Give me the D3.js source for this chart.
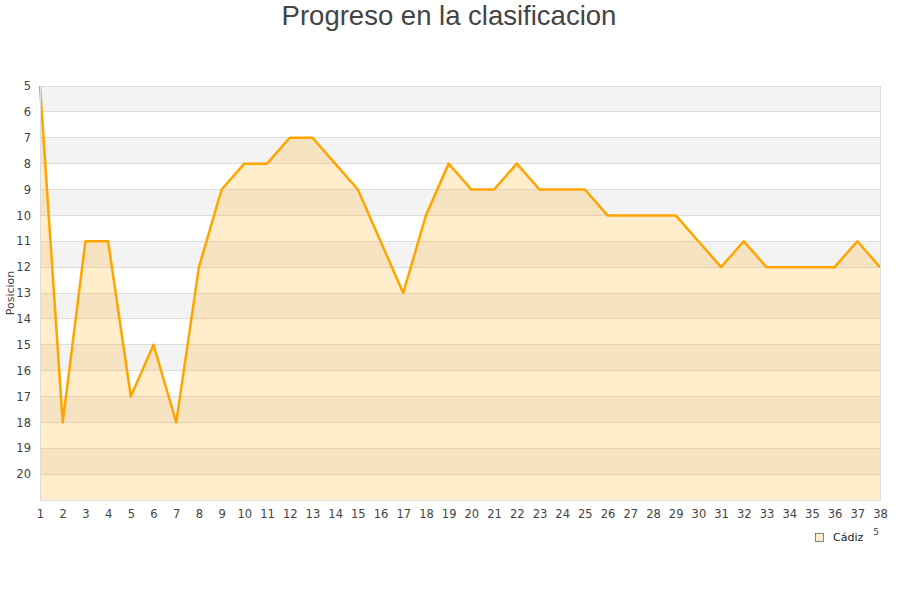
<!DOCTYPE html>
<html><head><meta charset="utf-8">
<script src="https://cdn.jsdelivr.net/npm/d3@7"></script>
<style>body{margin:0;background:#fff;font-family:"DejaVu Sans",sans-serif;}</style>
</head><body>
<svg id="c" width="900" height="600"></svg>
<script>
const title = "Progreso en la clasificacion";
const yLabel = "Posicion";
const seriesName = "Cádiz";
const rounds = d3.range(1, 39);
const positions = [5,18,11,11,17,15,18,12,9,8,8,7,7,8,9,11,13,10,8,9,9,8,9,9,9,10,10,10,10,11,12,11,12,12,12,12,11,12];
const yTicks = d3.range(5, 21);

const svg = d3.select("#c");
const m = {l:40, r:880, t:86, b:500};
const x = d3.scaleLinear().domain([1,38]).range([m.l, m.r]);
const y = d3.scaleLinear().domain([5,21]).range([m.t, m.b]);

// bands
const bands = d3.range(5, 21);
svg.selectAll("rect.band").data(bands).join("rect")
  .attr("x", m.l).attr("width", m.r - m.l)
  .attr("y", d => y(d)).attr("height", d => y(d+1) - y(d))
  .attr("fill", d => (d % 2 === 1) ? "#f3f3f3" : "#ffffff");

// grid
svg.selectAll("line.grid").data(d3.range(5, 22)).join("line")
  .attr("x1", m.l).attr("x2", m.r)
  .attr("y1", d => y(d)).attr("y2", d => y(d))
  .attr("stroke", "#dddddd").attr("stroke-width", 1).attr("shape-rendering","crispEdges");

const data = rounds.map((r,i)=>({r, p: positions[i]}));
svg.append("path").datum(data)
  .attr("d", d3.area().x(d=>x(d.r)).y0(y(21)).y1(d=>y(d.p)))
  .attr("fill", "#ffa500").attr("fill-opacity", 0.2);
svg.append("path").datum(data)
  .attr("d", d3.line().x(d=>x(d.r)).y(d=>y(d.p)))
  .attr("fill", "none").attr("stroke", "#ffa500").attr("stroke-width", 2.5).attr("stroke-linejoin","round");

// border
svg.append("rect").attr("x", m.l+0.5).attr("y", m.t+0.5).attr("width", m.r-m.l).attr("height", m.b-m.t)
  .attr("fill","none").attr("stroke","#dddddd");

// y axis labels
const ya = svg.append("g").attr("transform", `translate(${m.l},0)`)
  .call(d3.axisLeft(y).tickValues(yTicks).tickSize(0).tickPadding(9).tickFormat(d3.format("d")));
ya.select(".domain").remove();
ya.selectAll("text").attr("font-size", 11.5).attr("fill", "#444").attr("font-family","DejaVu Sans, sans-serif");

// x axis labels
const xa = svg.append("g").attr("transform", `translate(0,${m.b})`)
  .call(d3.axisBottom(x).tickValues(rounds).tickSize(0).tickPadding(10).tickFormat(d3.format("d")));
xa.select(".domain").remove();
xa.selectAll("text").attr("font-size", 11.5).attr("fill", "#444").attr("font-family","DejaVu Sans, sans-serif");

// title
svg.append("text").attr("x", 449).attr("y", 25).attr("text-anchor","middle")
  .attr("font-size", 27.5).attr("fill", "#444").attr("font-family","Liberation Sans, Arial, sans-serif").text(title);

// y label
svg.append("text").attr("transform", "translate(14,293) rotate(-90)").attr("text-anchor","middle")
  .attr("font-size", 11).attr("fill", "#444").text(yLabel);

// stray x title fragment
svg.append("text").attr("x", 876).attr("y", 535).attr("text-anchor","middle")
  .attr("font-size", 9).attr("fill", "#444").text("5");

// legend
svg.append("rect").attr("x", 815.5).attr("y", 533.5).attr("width", 8).attr("height", 8)
  .attr("fill", "#ffedcc").attr("stroke", "#666").attr("stroke-width", 0.8);
svg.append("text").attr("x", 833).attr("y", 541).attr("font-size", 11).attr("fill", "#222").text(seriesName);
</script>
</body></html>
